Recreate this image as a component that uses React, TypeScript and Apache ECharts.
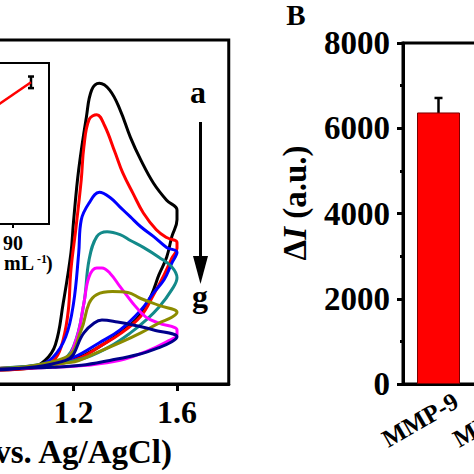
import { useEffect, useRef } from "react";
import * as echarts from "echarts";

const FONT = "'Liberation Serif', 'Times New Roman', serif";

// ---- Panel A: cyclic voltammograms, [potential (V), current (a.u.)] ----
const curveA = [[0.85,1.4],[1.03,1.6],[1.09,2.4],[1.13,4.0],[1.16,8.2],[1.19,13.3],[1.20,16.5],[1.22,21.8],[1.25,27.2],[1.27,29.9],[1.30,30.6],[1.34,29.9],[1.38,27.9],[1.42,25.1],[1.46,22.8],[1.51,20.4],[1.56,18.7],[1.60,17.7],[1.60,16.7],[1.58,15.0],[1.56,12.9],[1.53,11.1],[1.50,9.0],[1.45,6.8],[1.38,5.2],[1.30,3.8],[1.23,2.8],[1.15,2.1],[1.06,1.7],[0.85,1.5]];
const curveB = [[0.85,1.4],[1.07,1.7],[1.13,2.6],[1.16,4.5],[1.18,7.5],[1.19,11.6],[1.21,16.0],[1.23,20.8],[1.24,24.1],[1.26,26.9],[1.29,27.4],[1.32,26.3],[1.36,23.6],[1.39,21.5],[1.43,19.4],[1.47,17.4],[1.52,15.7],[1.56,14.9],[1.60,14.4],[1.60,13.8],[1.58,12.8],[1.55,11.1],[1.51,9.1],[1.46,6.9],[1.38,5.1],[1.30,3.8],[1.23,2.7],[1.15,2.1],[0.85,1.5]];
const curveC = [[0.85,1.4],[1.06,1.9],[1.12,2.7],[1.17,4.8],[1.20,8.2],[1.22,13.3],[1.23,16.7],[1.26,18.4],[1.30,19.5],[1.34,19.0],[1.38,18.0],[1.42,17.0],[1.46,16.0],[1.51,15.0],[1.56,13.9],[1.60,13.4],[1.58,12.3],[1.55,10.6],[1.51,9.3],[1.46,7.5],[1.38,5.5],[1.30,4.2],[1.20,2.7],[1.10,1.9],[0.85,1.5]];
const curveD = [[0.85,1.4],[1.15,2.4],[1.20,3.8],[1.24,8.2],[1.26,12.6],[1.29,15.0],[1.33,15.5],[1.38,15.2],[1.42,14.6],[1.47,13.9],[1.53,12.9],[1.58,11.9],[1.60,10.8],[1.58,9.6],[1.53,7.8],[1.48,6.5],[1.42,5.2],[1.34,3.8],[1.25,2.7],[1.15,2.1],[0.85,1.5]];
const curveE = [[0.85,1.4],[1.16,2.4],[1.21,4.5],[1.24,8.2],[1.26,10.9],[1.29,11.8],[1.31,11.8],[1.34,11.3],[1.38,9.9],[1.43,8.2],[1.48,6.8],[1.53,6.2],[1.60,5.5],[1.60,5.0],[1.56,4.3],[1.48,3.3],[1.38,2.4],[1.25,1.9],[1.12,1.7],[0.85,1.5]];
const curveF = [[0.85,1.4],[1.17,2.7],[1.23,5.5],[1.26,8.2],[1.29,9.1],[1.35,9.4],[1.41,9.3],[1.46,8.7],[1.53,8.0],[1.60,7.3],[1.58,6.8],[1.53,6.2],[1.46,5.2],[1.38,4.2],[1.29,3.2],[1.19,2.2],[0.85,1.5]];
const curveG = [[0.85,1.4],[1.17,2.4],[1.24,5.2],[1.28,6.2],[1.31,6.5],[1.37,6.3],[1.43,6.0],[1.51,5.5],[1.60,4.8],[1.58,4.3],[1.53,3.7],[1.45,3.0],[1.34,2.4],[1.23,1.9],[1.12,1.7],[0.85,1.5]];
const curves = [curveA, curveB, curveC, curveD, curveE, curveF, curveG];
const curveColors = ["#000000", "#ff0000", "#0000ff", "#138a8a", "#ff00ff", "#8c8c00", "#00008b"];

// ---- Panel A inset: response vs concentration ----
const insetConc = [50, 100];
const insetResp = [50, 88];
const insetErr = [null, 3.6];

// ---- Panel B: bar chart ----
const barCategories = ["MMP-9", "MMP-2"];
const barValues: (number | null)[] = [6370, null];
const barErrors: (number | null)[] = [340, null];
const barTicks = [0, 2000, 4000, 6000, 8000];

const errorRender = (capHalf: number, width: number) => (_p: any, api: any) => {
  const x = api.value(0);
  const lo = api.coord([x, api.value(1)]);
  const hi = api.coord([x, api.value(2)]);
  const style = { stroke: "#000", lineWidth: width };
  return {
    type: "group",
    children: [
      { type: "line", shape: { x1: lo[0], y1: lo[1], x2: hi[0], y2: hi[1] }, style },
      { type: "line", shape: { x1: lo[0] - capHalf, y1: lo[1], x2: lo[0] + capHalf, y2: lo[1] }, style },
      { type: "line", shape: { x1: hi[0] - capHalf, y1: hi[1], x2: hi[0] + capHalf, y2: hi[1] }, style },
    ],
  };
};

export default function App() {
  const ref = useRef<HTMLDivElement>(null);
  useEffect(() => {
    if (!ref.current) return;
    const chart = echarts.init(ref.current, null, { renderer: "svg" });
    const bold = { fontFamily: FONT, fontWeight: "bold" as const, color: "#000" };
    const gridBase = { outerBoundsMode: "none", containLabel: false };

    const option: any = {
      animation: false,
      backgroundColor: "#fff",
      grid: [
        { ...gridBase, left: -30, width: 258.75, top: 40, height: 344, show: true, borderColor: "#000", borderWidth: 3 },
        { ...gridBase, left: -149, width: 198, top: 63, height: 161, show: true, borderColor: "#000", borderWidth: 2 },
        { ...gridBase, left: 403, width: 142, top: 43, height: 341, show: true, borderColor: "#000", borderWidth: 3 },
        { ...gridBase, left: 420.5, width: 142, top: 43, height: 341, show: false },
      ],
      xAxis: [
        {
          gridIndex: 0, type: "value", min: 0.8, max: 1.8, interval: 0.4,
          axisLine: { show: true, lineStyle: { color: "#000", width: 3 } },
          axisTick: { show: true, inside: false, length: 7, lineStyle: { width: 3, color: "#000" } },
          axisLabel: { ...bold, fontSize: 32, margin: 12, showMinLabel: false, showMaxLabel: false, formatter: (v: number) => v.toFixed(1) },
          splitLine: { show: false },
        },
        {
          gridIndex: 1, type: "value", min: 0, max: 110, interval: 30,
          axisLine: { show: true, lineStyle: { color: "#000", width: 2 } },
          axisTick: { show: true, inside: false, length: 4, lineStyle: { width: 2, color: "#000" } },
          axisLabel: { ...bold, fontSize: 20, margin: 9, showMaxLabel: false, formatter: (v: number) => String(v) },
          splitLine: { show: false },
        },
        {
          gridIndex: 2, type: "category", data: barCategories,
          axisLine: { show: true, lineStyle: { color: "#000", width: 3 } },
          axisTick: { show: false },
          axisLabel: { show: false },
        },
        {
          gridIndex: 3, type: "category", data: barCategories,
          axisLine: { show: false },
          axisTick: { show: false },
          axisLabel: { ...bold, fontSize: 25, rotate: 30, margin: 15, interval: 0 },
        },
      ],
      yAxis: [
        { gridIndex: 0, type: "value", min: 0, max: 35, show: false },
        { gridIndex: 1, type: "value", min: 0, max: 100, show: false },
        {
          gridIndex: 2, type: "value", min: barTicks[0], max: barTicks[barTicks.length - 1], interval: 2000,
          axisLine: { show: true, lineStyle: { color: "#000", width: 3 } },
          axisTick: { show: true, inside: false, length: 6, lineStyle: { width: 3, color: "#000" } },
          minorTick: { show: true, splitNumber: 2, length: 3, lineStyle: { width: 3, color: "#000" } },
          axisLabel: { ...bold, fontSize: 33, margin: 13, formatter: (v: number) => String(v) },
          splitLine: { show: false },
        },
        { gridIndex: 3, type: "value", min: 0, max: 8000, show: false },
      ],
      series: [
        ...curves.map((c, i) => ({
          type: "line", xAxisIndex: 0, yAxisIndex: 0, data: c, showSymbol: false, smooth: 0.4,
          lineStyle: { width: 3, color: curveColors[i] }, itemStyle: { color: curveColors[i] },
        })),
        {
          type: "line", xAxisIndex: 1, yAxisIndex: 1,
          data: insetConc.map((c, i) => [c, insetResp[i]]), showSymbol: false,
          lineStyle: { width: 2.5, color: "#ff0000" },
        },
        {
          type: "custom", xAxisIndex: 1, yAxisIndex: 1,
          renderItem: errorRender(3, 2.5),
          data: insetConc.map((c, i) => insetErr[i] == null ? null : [c, insetResp[i] - (insetErr[i] as number), insetResp[i] + (insetErr[i] as number)]).filter((d) => d),
        },
        {
          type: "bar", xAxisIndex: 2, yAxisIndex: 2, data: barValues, barWidth: 43,
          itemStyle: { color: "#ff0000", borderColor: "#7a0000", borderWidth: 1 },
        },
        {
          type: "custom", xAxisIndex: 2, yAxisIndex: 2,
          renderItem: errorRender(4, 2.5),
          data: barValues.map((v, i) => v == null || barErrors[i] == null ? null : [i, v - (barErrors[i] as number), v + (barErrors[i] as number)]).filter((d) => d),
        },
      ],
      graphic: [
        { type: "text", x: 198, y: 92, style: { text: "a", fill: "#000", fontFamily: FONT, fontWeight: "bold", fontSize: 32, align: "center", verticalAlign: "middle" } },
        { type: "text", x: 200, y: 296, style: { text: "g", fill: "#000", fontFamily: FONT, fontWeight: "bold", fontSize: 32, align: "center", verticalAlign: "middle" } },
        { type: "line", shape: { x1: 200.5, y1: 122, x2: 200.5, y2: 262 }, style: { stroke: "#000", lineWidth: 3 } },
        { type: "polygon", shape: { points: [[193, 256], [208, 256], [200.5, 284]] }, style: { fill: "#000" } },
        { type: "text", x: 172, y: 452, style: { text: "Potential (V vs. Ag/AgCl)", fill: "#000", fontFamily: FONT, fontWeight: "bold", fontSize: 33, align: "right", verticalAlign: "middle" } },
        { type: "text", x: 34, y: 263, style: { text: "C (ng mL", fill: "#000", fontFamily: FONT, fontWeight: "bold", fontSize: 20, align: "right", verticalAlign: "middle" } },
        { type: "text", x: 37, y: 259, style: { text: "-1", fill: "#000", fontFamily: FONT, fontWeight: "bold", fontSize: 12, align: "left", verticalAlign: "middle" } },
        { type: "text", x: 46, y: 263, style: { text: ")", fill: "#000", fontFamily: FONT, fontWeight: "bold", fontSize: 20, align: "left", verticalAlign: "middle" } },
        { type: "text", x: 296, y: 15, style: { text: "B", fill: "#000", fontFamily: FONT, fontWeight: "bold", fontSize: 29, align: "center", verticalAlign: "middle" } },
        {
          type: "text", x: 295, y: 203, rotation: Math.PI / 2,
          style: {
            text: "{d|Δ}{i|I}{n| (a.u.)}", align: "center", verticalAlign: "middle", fill: "#000",
            rich: {
              d: { fontFamily: FONT, fontWeight: "bold", fontSize: 33, fill: "#000" },
              i: { fontFamily: FONT, fontWeight: "bold", fontStyle: "italic", fontSize: 33, fill: "#000" },
              n: { fontFamily: FONT, fontWeight: "bold", fontSize: 33, fill: "#000" },
            },
          },
        },
      ],
    };
    chart.setOption(option);
    return () => chart.dispose();
  }, []);
  return <div ref={ref} style={{ position: "absolute", left: 0, top: 0, width: 474, height: 474, background: "#fff" }} />;
}
